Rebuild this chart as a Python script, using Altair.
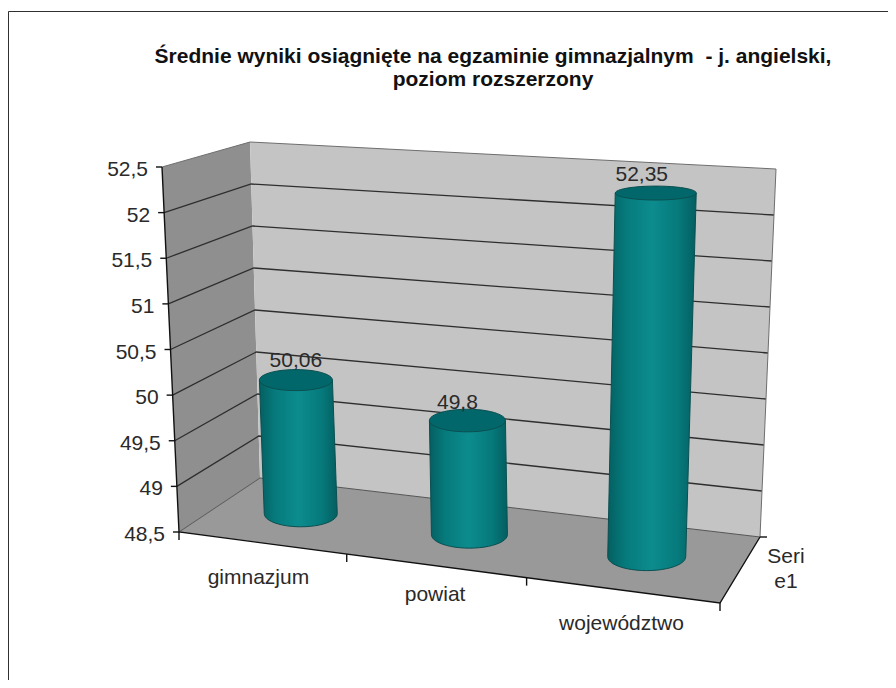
import altair as alt
import pandas as pd
import math

# ---- chart content ----
TITLE = ["Średnie wyniki osiągnięte na egzaminie gimnazjalnym \u00a0- j. angielski,",
         "poziom rozszerzony"]
categories = ["gimnazjum", "powiat", "województwo"]
values = [50.06, 49.8, 52.35]
value_labels = ["50,06", "49,8", "52,35"]
ticks = [48.5, 49, 49.5, 50, 50.5, 51, 51.5, 52, 52.5]
tick_labels = ["48,5", "49", "49,5", "50", "50,5", "51", "51,5", "52", "52,5"]
series_label = ["Seri", "e1"]
V_MIN, V_MAX = 48.5, 52.5

# ---- view geometry of the 3-D box (page pixels) ----
W, H = 880, 672
FLOOR = [(179, 532), (720, 603), (760, 537), (260, 478)]
TOP = [(162, 167), (747, 203), (776, 169), (250, 142)]


def homography(q):
    (x0, y0), (x1, y1), (x2, y2), (x3, y3) = q
    sx, sy = x0 - x1 + x2 - x3, y0 - y1 + y2 - y3
    dx1, dx2, dy1, dy2 = x1 - x2, x3 - x2, y1 - y2, y3 - y2
    den = dx1 * dy2 - dx2 * dy1
    g = (sx * dy2 - dx2 * sy) / den
    h = (dx1 * sy - sx * dy1) / den
    a, b, c = x1 - x0 + g * x1, x3 - x0 + h * x3, x0
    d, e, f = y1 - y0 + g * y1, y3 - y0 + h * y3, y0

    def m(u, w):
        z = g * u + h * w + 1
        return (a * u + b * w + c) / z, (d * u + e * w + f) / z
    return m


floor_map, top_map = homography(FLOOR), homography(TOP)


def vnorm(val):
    return (val - V_MIN) / (V_MAX - V_MIN)


def project(u, val, w):
    v = vnorm(val)
    fx, fy = floor_map(u, w)
    tx, ty = top_map(u, w)
    return fx + (tx - fx) * v, fy + (ty - fy) * v


def poly_rows(name, pts, fill):
    """Decompose a convex polygon into an area's x / y / y2 rows."""
    rows = []
    n = len(pts)
    for x in sorted({round(p[0], 3) for p in pts}):
        ys = []
        for i in range(n):
            (ax, ay), (bx, by) = pts[i], pts[(i + 1) % n]
            ax, bx = round(ax, 3), round(bx, 3)
            if min(ax, bx) <= x <= max(ax, bx):
                if ax == bx:
                    ys += [ay, by]
                else:
                    ys.append(ay + (by - ay) * (x - ax) / (bx - ax))
        rows.append(dict(shape=name, x=x, y=min(ys), y2=max(ys), fill=fill))
    return rows


def seg_rows(segs):
    rows = []
    for k, pts in enumerate(segs):
        for i, (x, y) in enumerate(pts):
            rows.append(dict(seg=k, i=i, x=x, y=y))
    return pd.DataFrame(rows)


X = alt.X("x:Q", scale=alt.Scale(domain=[8, 8 + W], range=[0, W]), axis=None)
Y = alt.Y("y:Q", scale=alt.Scale(domain=[8, 8 + H], range=[0, H]), axis=None)


def areas(rows, **mark):
    enc = dict(x=X, y=Y, y2="y2:Q", detail="shape:N")
    if "fill" not in mark:
        enc["fill"] = alt.Fill("fill:N", scale=None)
    return alt.Chart(pd.DataFrame(rows)).mark_area(**mark).encode(**enc)


def lines(segs, color, width):
    return alt.Chart(seg_rows(segs)).mark_line(color=color, strokeWidth=width).encode(
        x=X, y=Y, detail="seg:N", order="i:O")


def labels(rows, size=21, align="center", color="#2a2a2a"):
    return alt.Chart(pd.DataFrame(rows, columns=["x", "y", "t"])).mark_text(
        font="Liberation Sans", fontSize=size, align=align, baseline="middle", color=color
    ).encode(x=X, y=Y, text="t:N")


# walls and floor
wall_rows = (
    poly_rows("left", [project(0, V_MIN, 0), project(0, V_MAX, 0),
                       project(0, V_MAX, 1), project(0, V_MIN, 1)], "#8f8f8f")
    + poly_rows("back", [project(0, V_MIN, 1), project(0, V_MAX, 1),
                         project(1, V_MAX, 1), project(1, V_MIN, 1)], "#c4c4c4")
    + poly_rows("floor", [FLOOR[0], FLOOR[1], FLOOR[2], FLOOR[3]], "#999999")
)

grid = []
for t in ticks[1:-1]:
    grid.append([project(0, t, 0), project(0, t, 1), project(1, t, 1)])
edge_top = [[project(0, V_MAX, 0), project(0, V_MAX, 1), project(1, V_MAX, 1), project(1, V_MIN, 1)]]
edge_floor = [[project(0, V_MIN, 1), project(1, V_MIN, 1)], [project(0, V_MIN, 0), project(0, V_MIN, 1)]]

axes = [[project(0, V_MAX, 0), project(0, V_MIN, 0), project(1, V_MIN, 0), project(1, V_MIN, 1)]]
for t in ticks:
    x, y = project(0, t, 0)
    axes.append([(x - 6, y), (x, y)])
for u in [0, 1 / 3, 2 / 3, 1]:
    x, y = floor_map(u, 0)
    axes.append([(x, y), (x, y + 8)])
x, y = floor_map(1, 1)
axes.append([(x, y), (x + 7, y)])

# cylinders
CYL_U = [1 / 6, 0.503, 5 / 6]
CYL_W = 0.5
BASE_A = [36.5, 38, 39]
LID_A = [36.5, 38, 40.5]
LID_DY = [5, 5, 0]
LABEL_OFF = [(0, -19), (-10, -18), (-14, -18)]
NARC = 24


def flat(y):
    return 7 + (y - 194) * 0.019


def ellipse(u, val, a, dy=0):
    cx, cy = project(u, val, CYL_W)
    cy += dy
    return cx, cy, a, flat(cy)


def arc(e, lower=True):
    cx, cy, a, b = e
    pts = []
    for i in range(NARC + 1):
        t = math.pi * i / NARC
        s = 1 if lower else -1
        pts.append((cx - a * math.cos(t), cy + s * b * math.sin(t)))
    return pts


teal = alt.LinearGradient(
    gradient="linear", x1=0, x2=1, y1=0, y2=0,
    stops=[alt.GradientStop(offset=0, color="#045f61"),
           alt.GradientStop(offset=0.2, color="#067a7c"),
           alt.GradientStop(offset=0.5, color="#0c8c8e"),
           alt.GradientStop(offset=0.8, color="#06797b"),
           alt.GradientStop(offset=1, color="#045e60")])

cyl_layers, val_rows = [], []
for idx, (u, val) in enumerate(zip(CYL_U, values)):
    lid = ellipse(u, val, LID_A[idx], LID_DY[idx])
    base = ellipse(u, V_MIN, BASE_A[idx])
    body = [(lid[0] - lid[2], lid[1]), (lid[0] + lid[2], lid[1])] + arc(base, True)[::-1]
    cyl_layers.append(areas(poly_rows(f"body{idx}", body, ""), fill=teal, stroke="#0b4f50", strokeWidth=1))
    ring = arc(lid, True) + arc(lid, False)[::-1][1:-1]
    cyl_layers.append(areas(poly_rows(f"lid{idx}", ring, "#02676a"), stroke="#0b4f50", strokeWidth=1))
    val_rows.append((lid[0] + LABEL_OFF[idx][0], lid[1] + LABEL_OFF[idx][1], value_labels[idx]))

tick_rows = []
for t, lab in zip(ticks, tick_labels):
    x, y = project(0, t, 0)
    tick_rows.append((x - 14, y + 3, lab))

CAT_OFF = [(-3, 35), (0, 29), (0, 34)]
cat_rows = []
for u, c, (dx, dy) in zip([1 / 6, 1 / 2, 5 / 6], categories, CAT_OFF):
    x, y = floor_map(u, 0)
    cat_rows.append((x + dx, y + dy, c))

sx, sy = floor_map(1, 0.5)
ser_rows = [(sx + 45, sy - 11, series_label[0]), (sx + 45, sy + 14, series_label[1])]

frame = alt.Chart(pd.DataFrame({"seg": [0, 0, 0], "i": [0, 1, 2], "x": [8.5, 8.5, 888], "y": [680, 11.5, 11.5]})).mark_line(
    color="#303030", strokeWidth=1).encode(x=X, y=Y, detail="seg:N", order="i:O")

chart = alt.layer(
    frame,
    areas(wall_rows),
    lines(grid, "#2e2e2e", 1.3),
    lines(edge_top, "#6e6e6e", 1),
    lines(edge_floor, "#555555", 1),
    lines(axes, "#111111", 1.4),
    *cyl_layers,
    labels(tick_rows, align="right"),
    labels(cat_rows),
    labels(ser_rows),
    labels(val_rows),
).properties(
    width=W, height=H, padding=0,
    autosize=alt.AutoSizeParams(type="none"),
    title=alt.TitleParams(text=TITLE, font="Liberation Sans", fontSize=21, fontWeight="bold",
                          color="#111111", anchor="middle", dx=45, dy=86, lineHeight=23),
).configure_view(stroke=None)

chart.save("out.html", embed_options={"renderer": "svg", "actions": False})
